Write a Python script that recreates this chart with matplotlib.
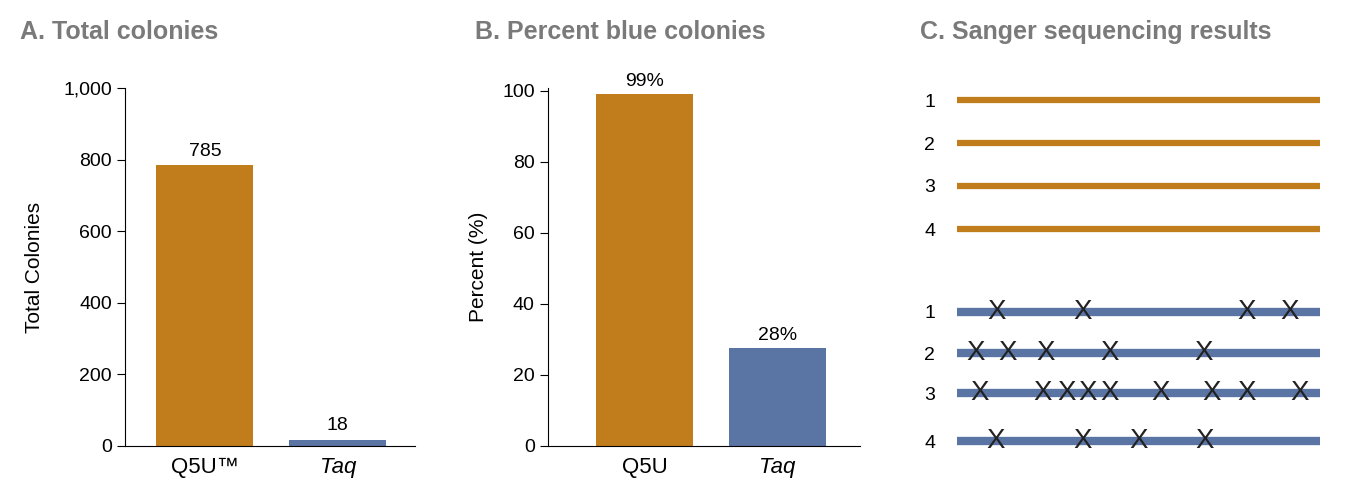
import numpy as np
import matplotlib.pyplot as plt

orange = '#C17D1B'
blue = '#5A74A4'
title_color = '#7a7a7a'

totals = [785, 18]
total_labels = ['785', '18']
percents = [99, 27.5]
percent_labels = ['99%', '28%']

# Sanger rows: mutation positions along the read, in percent of length
q5u_rows = ['1', '2', '3', '4']
taq_rows = ['1', '2', '3', '4']
taq_mutations = [
    [11, 34.7, 79.9, 91.5],
    [5, 14, 24.5, 42.1, 67.8],
    [6.3, 23.7, 30.3, 36.1, 42.1, 56.2, 70, 79.9, 94.5],
    [10.7, 34.7, 49.9, 68.3],
]

W, H = 1351, 504
fig = plt.figure(figsize=(W / 100, H / 100), dpi=100)
plt.rcParams['font.family'] = 'Liberation Sans'


def px_axes(x0, x1, ytop, ybot):
    return fig.add_axes([x0 / W, (H - ybot) / H, (x1 - x0) / W, (ybot - ytop) / H])


def style(ax):
    for s in ['top', 'right']:
        ax.spines[s].set_visible(False)
    ax.tick_params(axis='y', labelsize=14, length=6)
    ax.tick_params(axis='x', length=0, labelsize=16, pad=8)


# A
ax_a = px_axes(125, 415, 88, 446)
ax_a.bar([0, 1], totals, width=0.73, color=[orange, blue])
for i, v in enumerate(totals):
    ax_a.text(i, v + 15, total_labels[i], ha='center', va='bottom', fontsize=14)
ax_a.set_xlim(-0.6, 1.58)
ax_a.set_ylim(0, 1000)
ax_a.set_yticks([0, 200, 400, 600, 800, 1000])
ax_a.set_yticklabels(['0', '200', '400', '600', '800', '1,000'])
ax_a.set_xticks([0, 1])
ax_a.set_xticklabels(['Q5U\u2122', 'Taq'])
ax_a.get_xticklabels()[1].set_style('italic')
ax_a.set_ylabel('Total Colonies', fontsize=15, labelpad=14)
style(ax_a)
fig.text(20 / W, 1 - 32 / H, 'A. Total colonies', fontsize=18, fontweight='bold',
         color=title_color, va='center')

# B
ax_b = px_axes(548, 860, 88, 446)
ax_b.bar([0, 1], percents, width=0.73, color=[orange, blue])
for i, v in enumerate(percents):
    ax_b.text(i, v + 1.2, percent_labels[i], ha='center', va='bottom', fontsize=14)
ax_b.set_xlim(-0.73, 1.62)
ax_b.set_ylim(0, 100.8)
ax_b.set_yticks([0, 20, 40, 60, 80, 100])
ax_b.set_xticks([0, 1])
ax_b.set_xticklabels(['Q5U', 'Taq'])
ax_b.get_xticklabels()[1].set_style('italic')
ax_b.set_ylabel('Percent (%)', fontsize=15, labelpad=10)
style(ax_b)
fig.text(475 / W, 1 - 32 / H, 'B. Percent blue colonies', fontsize=18, fontweight='bold',
         color=title_color, va='center')

# C
ax_c = px_axes(915, 1340, 70, 470)
ax_c.set_xlim(-11.6, 105.5)
ax_c.set_ylim(470, 70)
ax_c.axis('off')
q5u_y = [100, 143, 186, 229]
taq_y = [312, 353, 393, 441]
for lab, y in zip(q5u_rows, q5u_y):
    ax_c.plot([0, 100], [y, y], color=orange, lw=4.5, solid_capstyle='butt')
    ax_c.text(-7.5, y + 2, lab, ha='center', va='center', fontsize=14)
for lab, y, muts in zip(taq_rows, taq_y, taq_mutations):
    ax_c.plot([0, 100], [y, y], color=blue, lw=6, solid_capstyle='butt')
    ax_c.text(-7.5, y + 2, lab, ha='center', va='center', fontsize=14)
    for m in muts:
        ax_c.text(m, y, 'X', ha='center', va='center', fontsize=20, color='#222222')
fig.text(920 / W, 1 - 32 / H, 'C. Sanger sequencing results', fontsize=18, fontweight='bold',
         color=title_color, va='center')

fig.savefig('out.png', dpi=100)
